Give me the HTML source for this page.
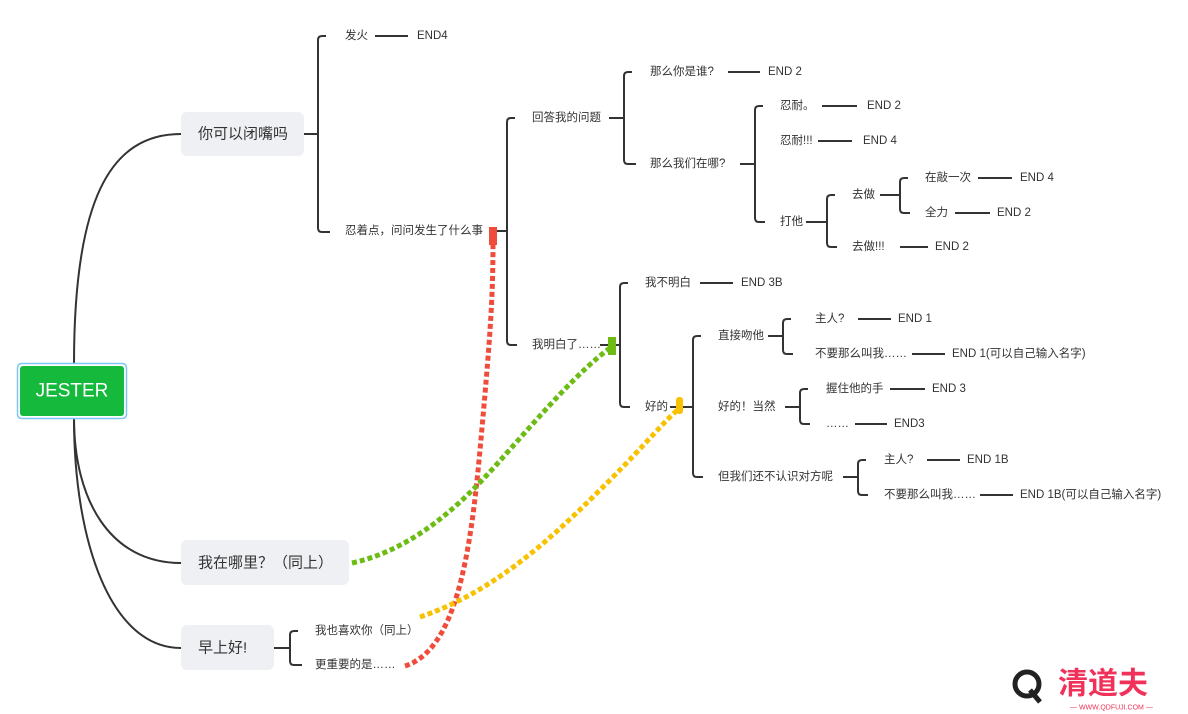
<!DOCTYPE html>
<html><head><meta charset="utf-8"><style>
html,body{margin:0;padding:0;background:#fff;width:1188px;height:714px;overflow:hidden}
svg text{font-family:"Liberation Sans","Noto Sans CJK SC",sans-serif;fill:#333;dominant-baseline:central}
.s{font-size:11.5px}.m{font-size:15px}
</style></head><body>
<svg width="1188" height="714" viewBox="0 0 1188 714" xmlns="http://www.w3.org/2000/svg">
<g fill="none" stroke="#333" stroke-width="2">
<path d="M74,364 C74,200 110,134 181,134"/>
<path d="M74,418 C74,500 110,563 181,563"/>
<path d="M74,418 C74,540 110,648 181,648"/>
<path d="M304,134 H318 M326,36 H322 Q318,36 318,40 V228 Q318,232 322,232 H330"/>
<path d="M375,36 H408"/>
<path d="M495,231 H507 M515,118 H511 Q507,118 507,122 V341 Q507,345 511,345 H517"/>
<path d="M609,118 H624 M632,72 H628 Q624,72 624,76 V160 Q624,164 628,164 H636"/>
<path d="M728,72 H760"/>
<path d="M740,164 H755 M763,106 H759 Q755,106 755,110 V218 Q755,222 759,222 H765"/>
<path d="M822,106 H857 M818,141 H852"/>
<path d="M806,222 H827 M835,195 H831 Q827,195 827,199 V243 Q827,247 831,247 H837"/>
<path d="M880,195 H900 M908,178 H904 Q900,178 900,182 V209 Q900,213 904,213 H910"/>
<path d="M978,178 H1012 M955,213 H990 M900,247 H928"/>
<path d="M600,345 H620 M628,283 H624 Q620,283 620,287 V403 Q620,407 624,407 H630"/>
<path d="M700,283 H733"/>
<path d="M670,407 H693 M701,336 H697 Q693,336 693,340 V473 Q693,477 697,477 H703"/>
<path d="M768,336 H783 M791,319 H787 Q783,319 783,323 V350 Q783,354 787,354 H793"/>
<path d="M858,319 H891 M912,354 H945"/>
<path d="M785,407 H800 M808,389 H804 Q800,389 800,393 V420 Q800,424 804,424 H810"/>
<path d="M890,389 H925 M855,424 H887"/>
<path d="M843,477 H858 M866,460 H862 Q858,460 858,464 V491 Q858,495 862,495 H868"/>
<path d="M927,460 H960 M980,495 H1013"/>
<path d="M274,648 H290 M298,631 H294 Q290,631 290,635 V661 Q290,665 294,665 H302"/>
</g>
<rect x="17.5" y="363.5" width="109" height="55" rx="4" fill="#fff" stroke="#7cc8f5" stroke-width="1.5"/>
<rect x="20" y="366" width="104" height="50" rx="3" fill="#15b93b"/>
<text x="72" y="391" text-anchor="middle" style="font-size:19px;fill:#fff">JESTER</text>
<rect x="181" y="112" width="123" height="44" rx="6" fill="#eef0f3"/>
<text class="m" x="198" y="134">你可以闭嘴吗</text>
<rect x="181" y="540" width="168" height="45" rx="6" fill="#eef0f3"/>
<text class="m" x="198" y="563">我在哪里？（同上）</text>
<rect x="181" y="625" width="93" height="45" rx="6" fill="#eef0f3"/>
<text class="m" x="198" y="648">早上好!</text>
<g>
<text class="s" x="345" y="36">发火</text><text class="s" x="417" y="36">END4</text>
<text class="s" x="345" y="231">忍着点，问问发生了什么事</text>
<text class="s" x="532" y="118">回答我的问题</text>
<text class="s" x="650" y="72">那么你是谁?</text><text class="s" x="768" y="72">END 2</text>
<text class="s" x="650" y="164">那么我们在哪?</text>
<text class="s" x="780" y="106">忍耐。</text><text class="s" x="867" y="106">END 2</text>
<text class="s" x="780" y="141">忍耐!!!</text><text class="s" x="863" y="141">END 4</text>
<text class="s" x="780" y="222">打他</text>
<text class="s" x="852" y="195">去做</text>
<text class="s" x="925" y="178">在敲一次</text><text class="s" x="1020" y="178">END 4</text>
<text class="s" x="925" y="213">全力</text><text class="s" x="997" y="213">END 2</text>
<text class="s" x="852" y="247">去做!!!</text><text class="s" x="935" y="247">END 2</text>
<text class="s" x="532" y="345">我明白了……</text>
<text class="s" x="645" y="283">我不明白</text><text class="s" x="741" y="283">END 3B</text>
<text class="s" x="645" y="407">好的</text>
<text class="s" x="718" y="336">直接吻他</text>
<text class="s" x="815" y="319">主人?</text><text class="s" x="898" y="319">END 1</text>
<text class="s" x="815" y="354">不要那么叫我……</text><text class="s" x="952" y="354">END 1(可以自己输入名字)</text>
<text class="s" x="718" y="407">好的！当然</text>
<text class="s" x="826" y="389">握住他的手</text><text class="s" x="932" y="389">END 3</text>
<text class="s" x="826" y="424">……</text><text class="s" x="894" y="424">END3</text>
<text class="s" x="718" y="477">但我们还不认识对方呢</text>
<text class="s" x="884" y="460">主人?</text><text class="s" x="967" y="460">END 1B</text>
<text class="s" x="884" y="495">不要那么叫我……</text><text class="s" x="1020" y="495">END 1B(可以自己输入名字)</text>
<text class="s" x="315" y="631">我也喜欢你（同上）</text>
<text class="s" x="315" y="665">更重要的是……</text>
</g>
<g fill="none" stroke-width="5" stroke-dasharray="5 3">
<path stroke="#f04c3c" d="M405,666 C455,650 470,560 480,450 C490,340 493,300 493,242"/>
<path stroke="#6cbc14" d="M352,563 C420,548 470,495 505,455 C545,410 580,370 610,348"/>
<path stroke="#f8c200" d="M420,617 C500,590 560,530 610,480 C645,445 665,420 680,408"/>
</g>
<rect x="489" y="227" width="8" height="18" fill="#f04c3c"/>
<rect x="608" y="337" width="8" height="18" fill="#6cbc14"/>
<rect x="676" y="397" width="7" height="17" rx="3" fill="#f8c200"/>
<circle cx="1027" cy="684" r="12" fill="none" stroke="#222" stroke-width="5"/>
<path d="M1030,690 L1040,702" stroke="#222" stroke-width="5"/>
<text x="1058" y="684" style="font-size:30px;font-weight:bold;fill:#f0325a">清道夫</text>
<text x="1070" y="708" style="font-size:7px;fill:#f0325a">— WWW.QDFUJI.COM —</text>
</svg>
</body></html>
